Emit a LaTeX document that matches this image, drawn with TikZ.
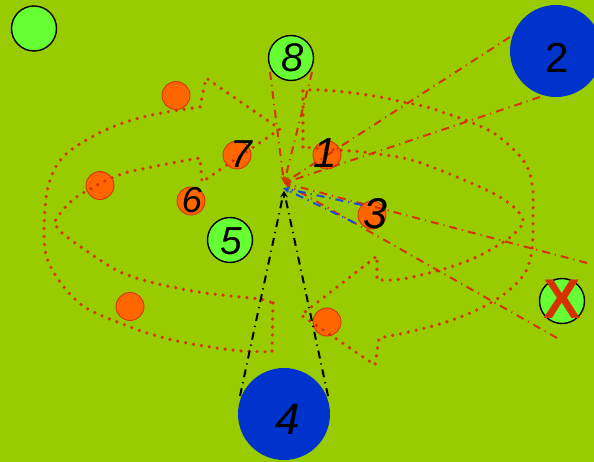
\documentclass[tikz,border=0pt]{standalone}
\usepackage{fontspec}
\setmainfont{Liberation Sans}
\usetikzlibrary{arrows.meta}
\definecolor{bg}{HTML}{99CC00}
\definecolor{lgreen}{HTML}{66FF33}
\definecolor{orng}{HTML}{FF6600}
\definecolor{dblue}{HTML}{0033CC}
\definecolor{rd}{HTML}{D43300}
\definecolor{lblue}{HTML}{1A4DDD}
\begin{document}
\begin{tikzpicture}[x=1pt,y=-1pt,
  gcirc/.style={circle, draw=black, line width=1.4pt, fill=lgreen, inner sep=0pt, minimum size=45pt},
  ocirc/.style={circle, draw=rd, line width=0.9pt, fill=orng, inner sep=0pt, minimum size=28pt},
  bcirc/.style={circle, fill=dblue, inner sep=0pt, minimum size=92pt},
  num/.style={font=\itshape\fontsize{40}{40}\selectfont, inner sep=0pt},
  dotline/.style={draw=rd, line width=3.6pt, line cap=round, dash pattern=on 0pt off 8pt},
  ddot/.style={line width=2pt, dash pattern=on 8pt off 5pt on 1.2pt off 5pt},
  tip/.style={-{Stealth[length=7pt,width=5pt]}}
]
\fill[bg] (0,0) rectangle (594,462);
\useasboundingbox (0,0) rectangle (594,462);

% orange circles (under the dotted outlines)
\node[ocirc] (o1) at (176,95.5) {};
\node[ocirc] (o2) at (100,185.5) {};
\node[ocirc] (o3) at (130,306.5) {};
\node[ocirc] (o4) at (327,322) {};
\node[ocirc] (c7) at (237,155) {};
\node[ocirc] (c6) at (191,201) {};
\node[ocirc] (c1) at (327,155) {};
\node[ocirc] (c3) at (372,215) {};

% left curved arrow outline
\draw[dotline] (273,303) -- (272,352)
  -- plot[smooth] coordinates {(272,352) (242,351) (210,347) (177,341) (147,333) (125,325) (100,315) (83,306) (68,292) (54,273) (46,255) (44,235) (45,208) (48,187) (55,168) (65,155) (78,145) (99,133) (120,124) (143,117) (167,112) (200,107)}
  -- (206,78) -- (280,129) -- (202,182) -- (200,158)
  -- plot[smooth] coordinates {(200,158) (177,162) (152,167) (128,172) (107,180) (92,188) (75,198) (62,211) (54,223)}
  -- plot[smooth] coordinates {(54,223) (62,233) (78,245) (100,260) (120,272) (143,280) (167,286) (198,292) (230,296) (260,299) (273,303)}
  -- cycle;

% right curved arrow outline
\draw[dotline] (303,147) -- (303,90)
  -- plot[smooth] coordinates {(303,90) (323,90) (353,93) (380,97) (403,102) (427,107) (448,114) (470,122) (492,132) (510,146) (523,160) (530,174) (533,192) (533,212) (533,237) (531,256) (526,271) (517,283) (503,295) (485,306) (463,316) (440,324) (417,330) (395,335) (379,338)}
  -- (375,365) -- (301,315) -- (377,256) -- (377,280)
  -- plot[smooth] coordinates {(377,280) (393,280) (408,278) (425,274) (447,268) (470,260) (490,250) (508,239) (519,229) (524,222)}
  -- plot[smooth] coordinates {(524,222) (517,210) (500,197) (480,187) (457,177) (432,167) (408,159) (385,155) (362,152) (337,150) (313,148) (303,147)}
  -- cycle;

% green and blue circles
\node[gcirc] (g0) at (34,28.5) {};
\node[gcirc] (g8) at (291,58) {};
\node[gcirc] (g5) at (230,240) {};
\node[gcirc] (gx) at (562,301) {};
\node[bcirc] (b2) at (556,51) {};
\node[bcirc] (b4) at (284,414) {};

% cone end points and centre
\coordinate (cR) at (284,183);
\coordinate (cB) at (283,188);
\coordinate (cK) at (284,191);
\coordinate (e8a) at (270,72);
\coordinate (e8b) at (312,72);
\coordinate (e2a) at (510,37);
\coordinate (e2b) at (540,97);
\coordinate (exa) at (587,263);
\coordinate (exb) at (557,338);
\coordinate (e3a) at (362,205);
\coordinate (e3b) at (355,223);
\coordinate (e4a) at (240,396);
\coordinate (e4b) at (328,396);

\draw[ddot, rd, tip] (e8a) -- (cR);
\draw[ddot, rd, tip] (e8b) -- (cR);
\draw[ddot, rd, tip] (e2a) -- (cR);
\draw[ddot, rd, tip] (e2b) -- (cR);
\draw[ddot, rd, tip] (exa) -- (cR);
\draw[ddot, rd, tip] (exb) -- (cR);
\draw[ddot, lblue, tip] (e3a) -- (cB);
\draw[ddot, lblue, tip] (e3b) -- (cB);
\draw[ddot, black, tip] (e4a) -- (cK);
\draw[ddot, black, tip] (e4b) -- (cK);

% labels
\node[num] (t8) at (293,58) {8};
\node[num, font=\fontsize{42}{42}\selectfont] (t2) at (557,58) {2};
\node[num, font=\itshape\fontsize{44}{44}\selectfont] (t4) at (288,419) {4};
\node[num, font=\itshape\fontsize{42}{42}\selectfont] (t1) at (325,153) {1};
\node[num, font=\itshape\fontsize{39}{39}\selectfont] (t7) at (241,154) {7};
\node[num, font=\itshape\fontsize{36}{36}\selectfont] (t6) at (192,200) {6};
\node[num, font=\itshape\fontsize{43}{43}\selectfont] (t3) at (375,214) {3};
\node[num, font=\itshape\fontsize{39}{39}\selectfont] (t5) at (231,241) {5};
\node[inner sep=0pt, text=rd, font=\bfseries\fontsize{56}{56}\selectfont] (tx) at (562,299) {X};
\end{tikzpicture}
\end{document}
